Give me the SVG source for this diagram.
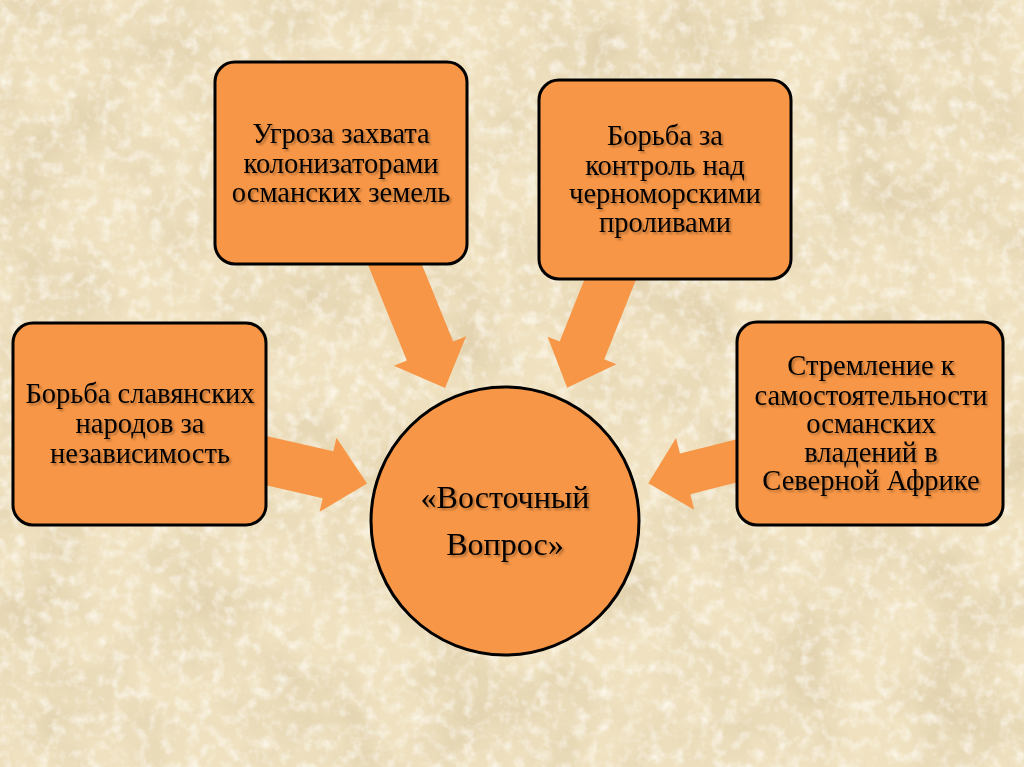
<svg xmlns="http://www.w3.org/2000/svg" width="1024" height="767" viewBox="0 0 1024 767">
  <defs>
    <filter id="paper" x="0" y="0" width="100%" height="100%">
      <feTurbulence type="fractalNoise" baseFrequency="0.012" numOctaves="5" seed="7" result="n"/>
      <feColorMatrix in="n" type="matrix" values="0 0 0 0 0.66  0 0 0 0 0.54  0 0 0 0 0.34  1.1 0 0 0 -0.42"/>
    </filter>
    <filter id="grain" x="0" y="0" width="100%" height="100%">
      <feTurbulence type="fractalNoise" baseFrequency="0.08" numOctaves="3" seed="3" result="g"/>
      <feColorMatrix in="g" type="matrix" values="0 0 0 0 1  0 0 0 0 0.98  0 0 0 0 0.92  1.6 0 0 0 -0.72"/>
    </filter>
    <filter id="tshadow" x="-10%" y="-20%" width="120%" height="140%">
      <feDropShadow dx="2" dy="2" stdDeviation="1.3" flood-color="#000" flood-opacity="0.3"/>
    </filter>
  </defs>
  <style>
    .node { fill: #F79646; stroke: #000; stroke-width: 3; }
    .arrow { fill: #F79646; stroke: none; }
    .lbl { font-family: "Liberation Serif", "Times New Roman", serif; font-size: 28.5px; fill: #000; text-anchor: middle; filter: url(#tshadow); }
    .big { font-size: 32px; }
  </style>

  <rect width="1024" height="767" fill="#F0E2C1"/>
  <rect width="1024" height="767" filter="url(#paper)"/>
  <rect width="1024" height="767" filter="url(#grain)"/>

  <g id="connectors">
    <polygon class="arrow" transform="translate(389,250) rotate(67.9)" points="0,-25 109,-25 109,-39 149,0 109,39 109,25 0,25"/>
    <polygon class="arrow" transform="translate(616,265) rotate(111.7)" points="0,-24 92,-24 92,-37 132,0 92,37 92,24 0,24"/>
    <polygon class="arrow" transform="translate(250,457) rotate(12.8)" points="0,-24 80,-24 80,-38 120,0 80,38 80,24 0,24"/>
    <polygon class="arrow" transform="translate(752,457) rotate(165.8)" points="0,-21 69,-21 69,-37 107,0 69,37 69,21 0,21"/>
  </g>

  <g id="node-threat">
    <rect class="node" x="215" y="62" width="252" height="202" rx="20"/>
    <text class="lbl" x="341" y="143">Угроза захвата</text>
    <text class="lbl" x="341" y="173">колонизаторами</text>
    <text class="lbl" x="341" y="202">османских земель</text>
  </g>

  <g id="node-straits">
    <rect class="node" x="539" y="80" width="252" height="199" rx="20"/>
    <text class="lbl" x="665" y="145">Борьба за</text>
    <text class="lbl" x="665" y="175">контроль над</text>
    <text class="lbl" x="665" y="203">черноморскими</text>
    <text class="lbl" x="665" y="232">проливами</text>
  </g>

  <g id="node-slavs">
    <rect class="node" x="13" y="323" width="253" height="202" rx="20"/>
    <text class="lbl" x="140" y="403">Борьба славянских</text>
    <text class="lbl" x="140" y="433">народов за</text>
    <text class="lbl" x="140" y="463">независимость</text>
  </g>

  <g id="node-africa">
    <rect class="node" x="737" y="322" width="266" height="203" rx="20"/>
    <text class="lbl" x="871" y="375">Стремление к</text>
    <text class="lbl" x="871" y="405">самостоятельности</text>
    <text class="lbl" x="871" y="433">османских</text>
    <text class="lbl" x="871" y="462">владений в</text>
    <text class="lbl" x="871" y="490">Северной Африке</text>
  </g>

  <g id="node-eastern-question">
    <circle class="node" cx="505" cy="521" r="134"/>
    <text class="lbl big" x="505" y="508">«Восточный</text>
    <text class="lbl big" x="505" y="555">Вопрос»</text>
  </g>
</svg>
